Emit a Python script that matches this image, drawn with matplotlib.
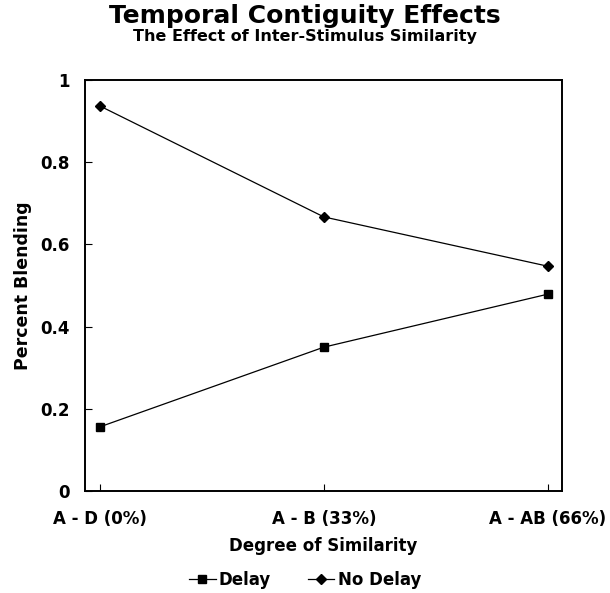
import matplotlib
matplotlib.use("Agg")
import matplotlib.pyplot as plt

plt.rcParams["font.family"] = ["DejaVu Sans"]
plt.rcParams["font.weight"] = "bold"

categories = ["A - D (0%)", "A - B (33%)", "A - AB (66%)"]
delay = [0.156, 0.350, 0.479]
no_delay = [0.937, 0.667, 0.547]
y_ticks = [0, 0.2, 0.4, 0.6, 0.8, 1]
y_labels = ["0", "0.2", "0.4", "0.6", "0.8", "1"]


def main():
    fig = plt.figure(figsize=(6.1, 5.93), dpi=100)
    ax = fig.add_axes([0.139, 0.172, 0.782, 0.693])
    x = list(range(len(categories)))

    ax.plot(x, delay, color="black", lw=0.9, marker="s", ms=6.2, label="Delay")
    ax.plot(x, no_delay, color="black", lw=0.9, marker="D", ms=5.5, label="No Delay")

    ax.set_xlim(-0.067, 2.0625)
    ax.set_ylim(0, 1)
    ax.set_xticks(x)
    ax.set_xticklabels(categories, fontsize=12, fontweight="bold")
    ax.set_yticks(y_ticks)
    ax.set_yticklabels(y_labels, fontsize=12, fontweight="bold")
    ax.tick_params(direction="in", length=5, width=0.8)
    ax.tick_params(axis="x", pad=14)
    ax.tick_params(axis="y", pad=11)
    for s in ax.spines.values():
        s.set_linewidth(1.4)

    ax.set_xlabel("Degree of Similarity", fontsize=12, fontweight="bold", labelpad=6)
    ax.set_ylabel("Percent Blending", fontsize=12.5, fontweight="bold", labelpad=6)

    fig.text(0.5, 0.973, "Temporal Contiguity Effects", ha="center", va="center",
             fontsize=18, fontweight="bold")
    fig.text(0.5, 0.938, "The Effect of Inter-Stimulus Similarity", ha="center",
             va="center", fontsize=11.5, fontweight="bold")

    fig.legend(loc="center", bbox_to_anchor=(0.5, 0.022), ncol=2, frameon=False,
               fontsize=12, handlelength=1.6, columnspacing=2.2, handletextpad=0.2)

    fig.savefig("out.png", dpi=100)


if __name__ == "__main__":
    main()
